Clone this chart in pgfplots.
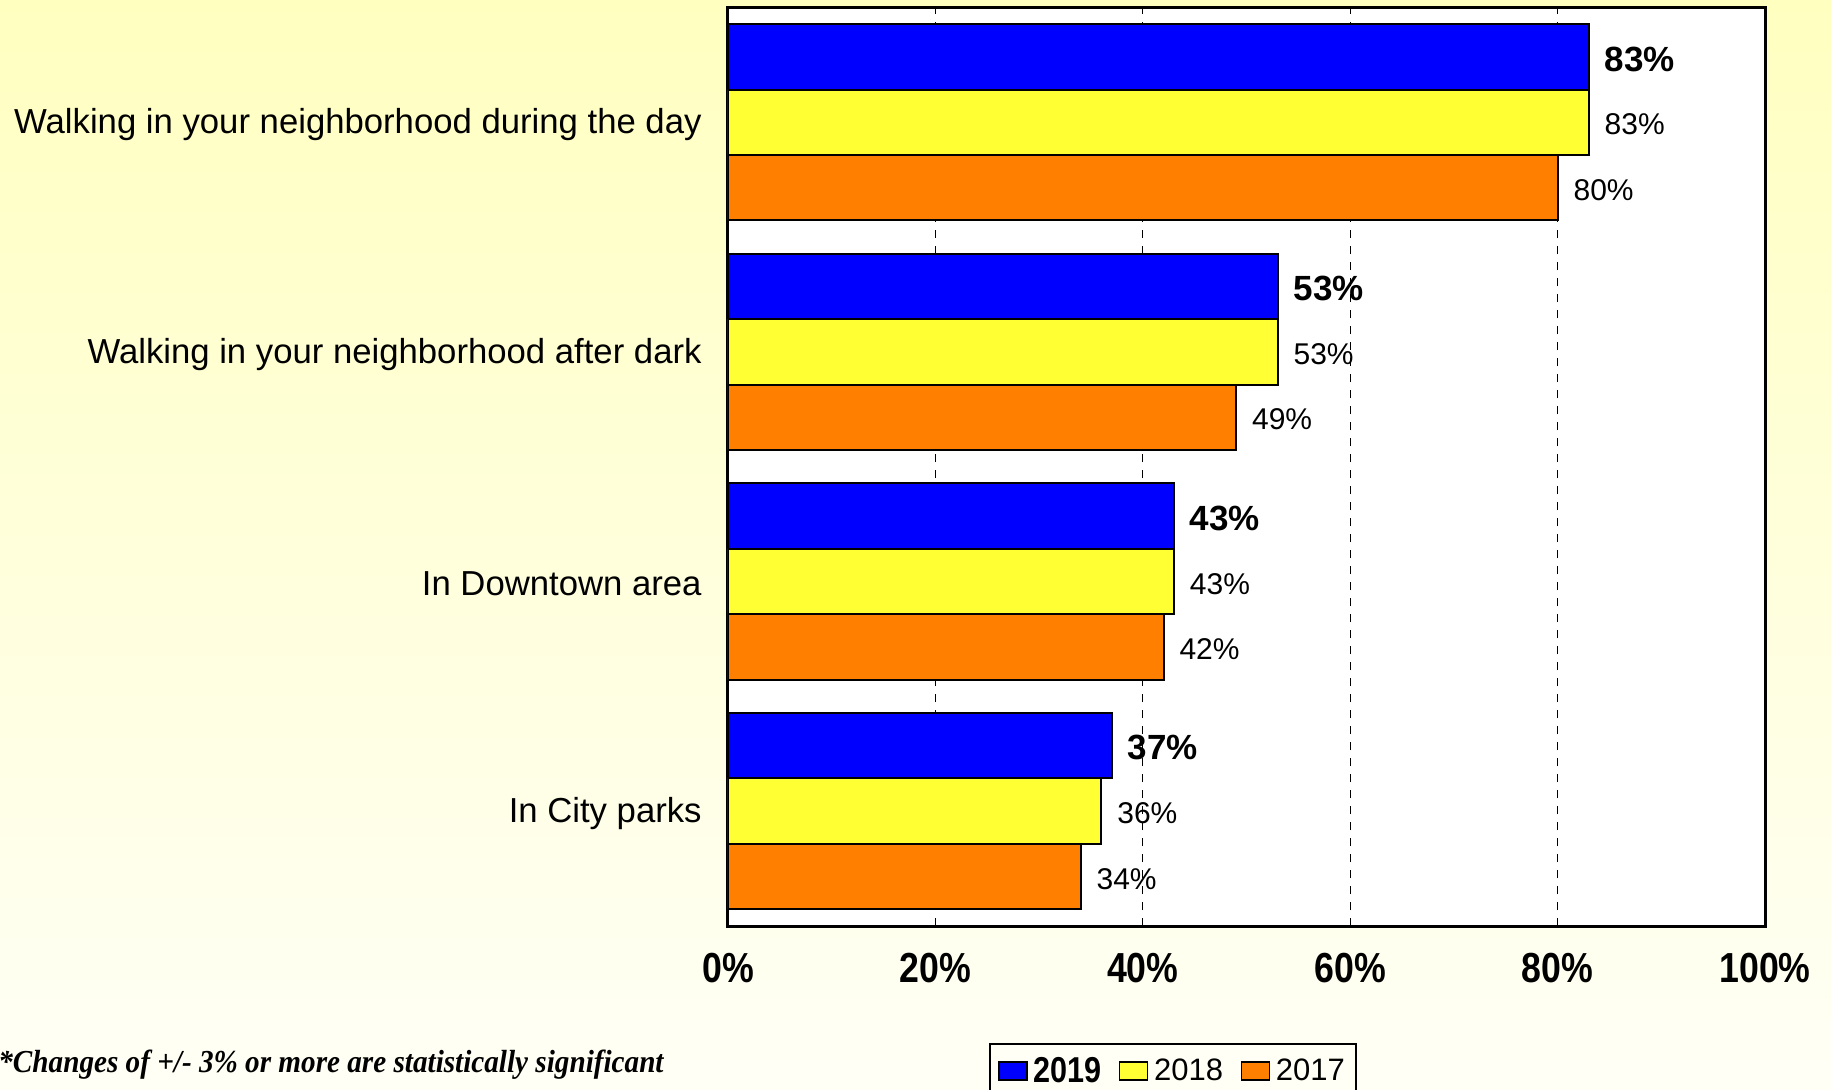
\documentclass[border=0pt]{standalone}
\usepackage{fontspec}
\setmainfont{Liberation Sans}
\newfontfamily\narrowfont[FakeStretch=0.85]{Liberation Sans}
\newfontfamily\footfont[FakeStretch=0.912]{Liberation Serif}
\usepackage{pgfplots}
\pgfplotsset{compat=1.18}
\definecolor{barblue}{RGB}{0,0,255}
\definecolor{baryellow}{RGB}{255,255,51}
\definecolor{barorange}{RGB}{255,128,0}
\definecolor{bgtop}{RGB}{255,255,192}
\definecolor{bgbot}{RGB}{255,255,246}
\pgfplotsset{legsq/.style={legend image code/.code={\draw[##1,draw=black,line width=0.8pt] (0pt,-4.5pt) rectangle (14pt,4.5pt);}}}
\begin{document}
\begin{tikzpicture}
\useasboundingbox (0,0) rectangle (915.5pt,544.5pt);
\shade[top color=bgtop, bottom color=bgbot] (0,0) rectangle (915.5pt,544.5pt);
\begin{axis}[
  at={(364pt,81.5pt)}, anchor=south west,
  scale only axis, width=518.5pt, height=459.25pt,
  xbar, xmin=0, xmax=100, ymin=-0.5, ymax=3.5,
  bar width=0.285,
  axis background/.style={fill=white},
  axis line style={line width=1.5pt},
  xtick={0,20,40,60,80,100},
  xticklabels={0\%,20\%,40\%,60\%,80\%,100\%},
  xticklabel style={font=\narrowfont\bfseries\fontsize{21}{24}\selectfont, inner sep=0pt, anchor=north, yshift=-13.3pt},
  ytick={0,1,2,3},
  yticklabels={In City parks, In Downtown area, Walking in your neighborhood after dark, Walking in your neighborhood during the day},
  yticklabel style={font=\fontsize{17.35}{20}\selectfont, inner sep=0pt, anchor=east, xshift=-13pt, yshift=-1.3pt},
  major tick length=0pt,
  xmajorgrids,
  grid style={black, line width=0.6pt, dash pattern=on 4pt off 4pt},
  /pgf/number format/assume math mode=true,
  point meta=x,
  nodes near coords={\pgfmathprintnumber{\pgfplotspointmeta}\%},
  every node near coord/.append style={anchor=west, inner sep=0pt, xshift=7.5pt, yshift=-1.1pt, text=black},
  legend columns=3,
  legend style={at={(0.2517,-0.1274)}, anchor=north west, draw=black, line width=1pt, fill=bgbot,
    font=\fontsize{15.5}{18}\selectfont, inner xsep=4pt, inner ysep=5pt,
    nodes={inner sep=1.5pt},
    /tikz/every odd column/.append style={column sep=1.3pt},
    /tikz/every even column/.append style={column sep=7.3pt}},
]
\addplot[fill=barblue, draw=black, line width=1pt, bar shift=0.285, legsq,
  nodes near coords style={font=\bfseries\fontsize{17.5}{20}\selectfont}]
  coordinates {(83,3) (53,2) (43,1) (37,0)};
\addlegendentry{\narrowfont\bfseries\fontsize{18}{20}\selectfont 2019}
\addplot[fill=baryellow, draw=black, line width=1pt, bar shift=0, legsq,
  nodes near coords style={font=\fontsize{15}{18}\selectfont}]
  coordinates {(83,3) (53,2) (43,1) (36,0)};
\addlegendentry{2018}
\addplot[fill=barorange, draw=black, line width=1pt, bar shift=-0.285, legsq,
  nodes near coords style={font=\fontsize{15}{18}\selectfont}]
  coordinates {(80,3) (49,2) (42,1) (34,0)};
\addlegendentry{2017\hspace{4.8pt}}
\end{axis}
\node[anchor=base west, inner sep=0pt, font=\footfont\bfseries\itshape\fontsize{16}{19}\selectfont] at (-1pt,8.5pt) {*Changes of +/- 3\% or more are statistically significant};
\end{tikzpicture}
\end{document}
